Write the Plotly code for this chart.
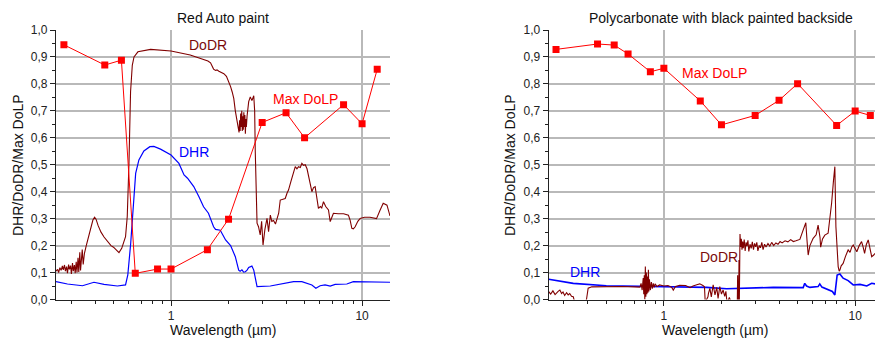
import math
import plotly.graph_objects as go

# ---------------- Red Auto paint ----------------
red_dodr_wl = [0.250, 0.255, 0.258, 0.262, 0.266, 0.270, 0.273, 0.277, 0.280, 0.284,
               0.287, 0.291, 0.294, 0.298, 0.301, 0.305, 0.308, 0.312, 0.315, 0.319,
               0.322, 0.326, 0.329, 0.333, 0.336, 0.340, 0.343, 0.347, 0.352, 0.360,
               0.370, 0.380, 0.390, 0.398, 0.405, 0.415, 0.430, 0.446, 0.465, 0.485,
               0.500, 0.515, 0.534, 0.552, 0.567, 0.578, 0.590, 0.598, 0.602, 0.614,
               0.627, 0.640, 0.671, 0.782, 1.000, 1.260, 1.450, 1.560, 1.610, 1.640,
               1.670, 1.710, 1.740, 1.780, 1.840, 1.890, 1.950, 2.000, 2.050, 2.090,
               2.130, 2.170, 2.220, 2.260, 2.270, 2.285, 2.300, 2.315, 2.330, 2.345,
               2.360, 2.375, 2.390, 2.405, 2.420, 2.435, 2.450, 2.465, 2.480, 2.500,
               2.550, 2.600, 2.650, 2.710, 2.740, 2.760, 2.790, 2.820, 2.870, 2.930,
               2.980, 3.030, 3.100, 3.180, 3.240, 3.310, 3.370, 3.440, 3.520, 3.600,
               3.660, 3.730, 3.820, 3.960, 4.050, 4.120, 4.250, 4.380, 4.470, 4.560,
               4.650, 4.750, 4.840, 4.940, 5.040, 5.150, 5.250, 5.350, 5.460, 5.570,
               5.680, 5.800, 5.910, 6.050, 6.150, 6.280, 6.450, 6.670, 6.810, 6.950,
               7.080, 7.500, 8.000, 8.480, 8.650, 8.840, 9.000, 9.200, 9.500, 9.770,
               10.30, 11.00, 11.90, 12.40, 12.90, 13.50, 14.00]
red_dodr = [0.105, 0.112, 0.100, 0.118, 0.108, 0.125, 0.110, 0.128, 0.105, 0.122,
            0.098, 0.130, 0.112, 0.126, 0.095, 0.135, 0.105, 0.128, 0.098, 0.140,
            0.100, 0.155, 0.102, 0.175, 0.108, 0.150, 0.185, 0.130, 0.170, 0.200,
            0.235, 0.268, 0.295, 0.305, 0.298, 0.275, 0.250, 0.232, 0.214, 0.200,
            0.194, 0.186, 0.174, 0.190, 0.215, 0.233, 0.308, 0.432, 0.500, 0.771,
            0.869, 0.900, 0.919, 0.928, 0.922, 0.907, 0.893, 0.885, 0.878, 0.868,
            0.855, 0.850, 0.852, 0.847, 0.843, 0.838, 0.828, 0.812, 0.790, 0.770,
            0.746, 0.700, 0.662, 0.635, 0.620, 0.665, 0.625, 0.690, 0.640, 0.700,
            0.625, 0.680, 0.630, 0.695, 0.640, 0.685, 0.615, 0.670, 0.640, 0.680,
            0.734, 0.752, 0.738, 0.756, 0.700, 0.550, 0.350, 0.283, 0.270, 0.240,
            0.290, 0.202, 0.260, 0.301, 0.252, 0.313, 0.290, 0.293, 0.280, 0.310,
            0.320, 0.369, 0.372, 0.375, 0.395, 0.406, 0.440, 0.468, 0.493, 0.485,
            0.493, 0.490, 0.505, 0.498, 0.500, 0.485, 0.462, 0.430, 0.400, 0.415,
            0.419, 0.370, 0.338, 0.345, 0.340, 0.363, 0.345, 0.332, 0.289, 0.305,
            0.320, 0.318, 0.318, 0.313, 0.295, 0.264, 0.262, 0.270, 0.290, 0.301,
            0.305, 0.305, 0.300, 0.330, 0.357, 0.350, 0.310]

red_dhr_wl = [0.250, 0.287, 0.344, 0.395, 0.446, 0.524, 0.578, 0.594, 0.615, 0.635,
              0.653, 0.679, 0.721, 0.775, 0.813, 0.881, 1.000, 1.100, 1.170, 1.220,
              1.315, 1.400, 1.480, 1.570, 1.670, 1.710, 1.810, 1.930, 2.050, 2.170,
              2.260, 2.300, 2.350, 2.400, 2.450, 2.500, 2.550, 2.650, 2.710, 2.820,
              3.310, 4.380, 4.840, 5.460, 5.730, 6.030, 6.400, 6.810, 7.230, 8.320,
              9.000, 14.00]
red_dhr = [0.066, 0.0575, 0.051, 0.064, 0.056, 0.050, 0.054, 0.091, 0.208, 0.369,
           0.468, 0.518, 0.551, 0.567, 0.568, 0.558, 0.536, 0.505, 0.462, 0.450,
           0.419, 0.381, 0.344, 0.320, 0.270, 0.260, 0.257, 0.221, 0.200, 0.159,
           0.109, 0.105, 0.110, 0.102, 0.103, 0.109, 0.119, 0.124, 0.109, 0.048,
           0.050, 0.066, 0.066, 0.054, 0.042, 0.051, 0.054, 0.050, 0.056, 0.0575,
           0.066, 0.064]

red_dolp_wl = [0.275, 0.45, 0.55, 0.65, 0.85, 1.0, 1.55, 2.0, 3.0, 4.0, 5.0, 8.0, 10.0, 12.0]
red_dolp = [0.945, 0.870, 0.888, 0.097, 0.113, 0.113, 0.185, 0.298, 0.657, 0.693,
            0.600, 0.723, 0.652, 0.854]

# ---------- Polycarbonate with black painted backside ----------
pc_dodr_wl = [0.250, 0.256, 0.263, 0.270, 0.280, 0.286, 0.292, 0.297, 0.303, 0.310,
              0.316, 0.322, 0.329, 0.336, 0.342, 0.390, 0.394, 0.402, 0.420, 0.500,
              0.600, 0.700, 0.750, 0.760, 0.770, 0.780, 0.785, 0.790, 0.795, 0.800,
              0.805, 0.810, 0.815, 0.820, 0.825, 0.830, 0.835, 0.840, 0.850, 0.860,
              0.870, 0.880, 0.890, 0.900, 0.920, 0.950, 1.000, 1.050, 1.100, 1.120,
              1.150, 1.210, 1.300, 1.370, 1.420, 1.500, 1.540, 1.600, 1.630, 1.645,
              1.700, 1.710, 1.740, 1.770, 1.810, 1.850, 1.890, 1.920, 1.960, 2.000,
              2.040, 2.080, 2.110, 2.130, 2.150, 2.200, 2.240, 2.420, 2.430, 2.440,
              2.460, 2.470, 2.480, 2.500, 2.520, 2.540, 2.560, 2.580, 2.600, 2.630,
              2.660, 2.690, 2.720, 2.750, 2.780, 2.820, 2.860, 2.900, 2.940, 2.980,
              3.020, 3.060, 3.100, 3.150, 3.200, 3.250, 3.300, 3.360, 3.420, 3.500,
              3.580, 3.660, 3.750, 3.850, 3.950, 4.050, 4.150, 4.300, 4.450, 4.600,
              4.750, 4.900, 5.050, 5.140, 5.300, 5.450, 5.520, 5.600, 5.680, 5.800,
              6.030, 6.250, 6.400, 6.550, 6.600, 6.750, 6.940, 7.220, 7.400, 7.530,
              7.700, 7.830, 7.930, 8.050, 8.150, 8.250, 8.320, 8.450, 8.650, 8.900,
              9.190, 9.400, 9.600, 9.770, 10.00, 10.20, 10.50, 10.80, 11.00, 11.20,
              11.45, 11.70, 11.95, 12.20, 12.50, 12.70]
pc_dodr = [0.029, 0.020, 0.032, 0.018, 0.030, 0.035, 0.022, 0.028, 0.015, 0.025,
           0.017, 0.022, 0.012, 0.010, -0.010, -0.010, 0.000, 0.042, 0.047, 0.048,
           0.048, 0.047, 0.046, 0.060, 0.035, 0.080, 0.020, 0.090, 0.000, 0.122,
           0.010, 0.100, 0.020, 0.085, 0.025, 0.110, 0.030, 0.075, 0.035, 0.065,
           0.040, 0.060, 0.045, 0.058, 0.048, 0.054, 0.050, 0.052, 0.045, 0.035,
           0.048, 0.053, 0.052, 0.044, 0.050, 0.056, 0.058, 0.052, 0.047, -0.010,
           0.010, 0.023, 0.041, 0.010, 0.054, 0.017, 0.045, 0.004, 0.0475, 0.020,
           0.035, 0.012, 0.030, 0.000, -0.010, 0.008, -0.010, -0.010, 0.090, -0.010,
           -0.010, 0.147, -0.010, 0.243, 0.195, 0.225, 0.185, 0.215, 0.190, 0.222,
           0.180, 0.212, 0.198, 0.220, 0.178, 0.205, 0.190, 0.214, 0.185, 0.208,
           0.195, 0.212, 0.180, 0.200, 0.192, 0.212, 0.185, 0.205, 0.195, 0.208,
           0.198, 0.212, 0.200, 0.210, 0.205, 0.215, 0.210, 0.218, 0.214, 0.222,
           0.215, 0.218, 0.220, 0.223, 0.250, 0.280, 0.285, 0.220, 0.165, 0.200,
           0.227, 0.240, 0.276, 0.230, 0.194, 0.225, 0.239, 0.246, 0.300, 0.357,
           0.440, 0.493, 0.270, 0.150, 0.122, 0.105, 0.109, 0.125, 0.134, 0.160,
           0.184, 0.175, 0.195, 0.202, 0.185, 0.177, 0.200, 0.215, 0.195, 0.171,
           0.205, 0.221, 0.190, 0.159, 0.165, 0.171]

pc_dhr_wl = [0.250, 0.336, 0.500, 1.000, 1.670, 2.130, 2.500, 3.730, 5.350, 5.450,
             5.570, 5.800, 6.400, 6.530, 6.700, 7.080, 7.600, 7.830, 8.050, 8.320,
             8.650, 9.190, 9.770, 10.60, 11.500, 12.20, 12.70]
pc_dhr = [0.075, 0.060, 0.051, 0.0475, 0.045, 0.040, 0.041, 0.045, 0.044, 0.060,
          0.050, 0.045, 0.048, 0.058, 0.046, 0.040, 0.030, 0.017, 0.091, 0.095,
          0.079, 0.070, 0.054, 0.056, 0.050, 0.060, 0.058]

pc_dolp_wl = [0.273, 0.45, 0.55, 0.65, 0.85, 1.0, 1.55, 2.0, 3.0, 4.0, 5.0, 8.0, 10.0, 12.0]
pc_dolp = [0.928, 0.948, 0.944, 0.911, 0.845, 0.858, 0.737, 0.648, 0.683, 0.739,
           0.801, 0.646, 0.699, 0.683]

# ---------------- styling ----------------
W, H = 875, 340
FONT = "Liberation Sans, Arial, sans-serif"
MAROON = "#800000"
RED = "#ff0000"
BLUE = "#0000ff"
GRID = "#b9b9b9"
AXIS = "#222222"

minor_x = [0.3, 0.4, 0.5, 0.6, 0.7, 0.8, 0.9, 2, 3, 4, 5, 6, 7, 8, 9]
left_dom = [56 / W, 390 / W]
right_dom = [548.7 / W, 1.0]
y_dom = [1 - 299.5 / H, 1 - 30 / H]
xr_left = [math.log10(0.25), math.log10(14.0)]
xr_right = [math.log10(0.25), math.log10(0.25) + (W - 548.7) / 191.3]

fig = go.Figure()


def add_panel(xa, ya, dhr_wl, dhr, dodr_wl, dodr, dolp_wl, dolp, dhr_w):
    fig.add_trace(go.Scatter(x=dhr_wl, y=dhr, mode="lines", xaxis=xa, yaxis=ya,
                             line=dict(color=BLUE, width=dhr_w), showlegend=False))
    fig.add_trace(go.Scatter(x=dodr_wl, y=dodr, mode="lines", xaxis=xa, yaxis=ya,
                             line=dict(color=MAROON, width=1.1), showlegend=False))
    fig.add_trace(go.Scatter(x=dolp_wl, y=dolp, mode="lines+markers", xaxis=xa, yaxis=ya,
                             line=dict(color=RED, width=1),
                             marker=dict(symbol="square", size=7, color=RED),
                             showlegend=False))


add_panel("x", "y", red_dhr_wl, red_dhr, red_dodr_wl, red_dodr, red_dolp_wl, red_dolp, 1.2)
add_panel("x2", "y2", pc_dhr_wl, pc_dhr, pc_dodr_wl, pc_dodr, pc_dolp_wl, pc_dolp, 1.6)


def x_axis(dom, rng, anchor):
    return dict(type="log", domain=dom, range=rng, anchor=anchor, automargin=False,
                tickmode="array", tickvals=[1, 10], ticktext=["1", "10"],
                ticks="outside", ticklen=5, tickwidth=1, tickcolor=AXIS,
                showline=True, linecolor=AXIS, linewidth=1,
                showgrid=True, gridcolor=GRID, gridwidth=1.5, zeroline=False,
                minor=dict(tickmode="array", tickvals=minor_x, ticks="outside",
                           ticklen=3, tickcolor=AXIS, showgrid=False),
                tickfont=dict(family=FONT, size=12, color="#222"))


def x_top(over, rng):
    return dict(type="log", overlaying=over, side="top", range=rng, automargin=False,
                tickmode="array", tickvals=[1, 10], showticklabels=False,
                ticks="inside", ticklen=5, tickcolor=AXIS,
                showline=True, linecolor=AXIS, linewidth=1,
                showgrid=False, zeroline=False,
                minor=dict(tickmode="array", tickvals=minor_x, ticks="inside",
                           ticklen=3, tickcolor=AXIS, showgrid=False))


def y_axis(anchor):
    return dict(domain=y_dom, range=[0, 1.0], anchor=anchor, automargin=False,
                tickmode="linear", tick0=0, dtick=0.1, tickformat=".1f",
                ticks="outside", ticklen=5, tickcolor=AXIS,
                showline=True, linecolor=AXIS, linewidth=1.2,
                showgrid=True, gridcolor=GRID, gridwidth=1.5, zeroline=False,
                minor=dict(dtick=0.05, tick0=0, ticks="outside", ticklen=3,
                           tickcolor=AXIS, showgrid=False),
                tickfont=dict(family=FONT, size=12, color="#222"))


fig.update_layout(
    width=W, height=H,
    margin=dict(l=0, r=0, t=0, b=0, autoexpand=False),
    paper_bgcolor="white", plot_bgcolor="white",
    separators=", ",
    font=dict(family=FONT, color="#222"),
    xaxis=x_axis(left_dom, xr_left, "y"),
    yaxis=y_axis("x"),
    xaxis2=x_axis(right_dom, xr_right, "y2"),
    yaxis2=y_axis("x2"),
    xaxis3=x_top("x", xr_left),
    yaxis3=dict(overlaying="y", side="right", range=[0, 1.0], anchor="x", automargin=False,
                tickmode="linear", tick0=0, dtick=0.1, showticklabels=False,
                ticks="inside", ticklen=5, tickcolor=AXIS,
                showline=True, linecolor=AXIS, linewidth=1,
                showgrid=False, zeroline=False,
                minor=dict(dtick=0.05, tick0=0, ticks="inside", ticklen=3,
                           tickcolor=AXIS, showgrid=False)),
    xaxis4=x_top("x2", xr_right),
)


def note(text, x, y, color, xref="paper", yref="paper", size=14, angle=0,
         xanchor="center", yanchor="middle"):
    fig.add_annotation(text=text, x=x, y=y, xref=xref, yref=yref, showarrow=False,
                       textangle=angle, xanchor=xanchor, yanchor=yanchor,
                       font=dict(family=FONT, size=size, color=color))


# panel titles
note("Red Auto paint", 223 / W, 1 - 18 / H, "#111")
note("Polycarbonate with black painted backside", 721 / W, 1 - 18 / H, "#111")

# axis titles, kept just inside the bottom edge
for cx in (223 / W, 715 / W):
    note("Wavelength (µm)", cx, 1 - 330 / H, "#111")
for cx in (18 / W, 510 / W):
    note("DHR/DoDR/Max DoLP", cx, 1 - 165 / H, "#111", angle=-90)

# curve labels (data coordinates; log axes take log10 positions)
note("DoDR", math.log10(1.57), 0.944, "#7a0a0a", xref="x", yref="y")
note("Max DoLP", math.log10(5.04), 0.744, RED, xref="x", yref="y")
note("DHR", math.log10(1.315), 0.546, BLUE, xref="x", yref="y")
note("Max DoLP", math.log10(1.83), 0.842, RED, xref="x2", yref="y2")
note("DHR", math.log10(0.386), 0.103, BLUE, xref="x2", yref="y2")
note("DoDR", math.log10(1.94), 0.157, "#7a0a0a", xref="x2", yref="y2")

fig.write_html("out.html")
